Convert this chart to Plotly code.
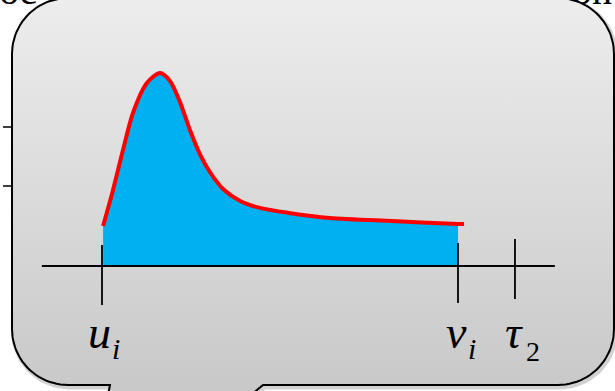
import numpy as np
import plotly.graph_objects as go

# ---- data -------------------------------------------------------------
# time positions (u_i = start, v_i = end of interval, tau_2 = later time)
u_i = 0.0
v_i = 1.0
tau_2 = 1.16
tick_positions = [u_i, v_i, tau_2]
tick_labels = ["u", "v", "τ"]
tick_subscripts = ["i", "i", "2"]

# density curve over the interval (peak normalised to 1)
t_curve = [0.003, 0.031, 0.059, 0.087, 0.126, 0.163, 0.191, 0.219, 0.247,
           0.275, 0.303, 0.340, 0.388, 0.444, 0.525, 0.640, 0.815, 1.000, 1.017]
density = [0.207, 0.394, 0.601, 0.793, 0.948, 1.000, 0.959, 0.850, 0.705,
           0.580, 0.487, 0.399, 0.337, 0.301, 0.275, 0.249, 0.233, 0.218, 0.218]

# axis extent
axis_start, axis_end = -0.169, 1.272

# ---- styling ----------------------------------------------------------
W, H = 615, 391
RED = "#ff0000"
BLUE = "#00b0f0"
SERIF = "Liberation Serif, Times New Roman, serif"

fig = go.Figure()


def arc(cx, cy, r, a0, a1, n=24):
    a = np.radians(np.linspace(a0, a1, n))
    return list(cx + r * np.cos(a)), list(cy + r * np.sin(a))


def bubble_path(left, top, right, bottom, r, tail_l, tail_r):
    xs, ys = [left + r, right - r], [top, top]
    ax, ay = arc(right - r, top + r, r, -90, 0); xs += ax; ys += ay
    ax, ay = arc(right - r, bottom - r, r, 0, 90); xs += ax; ys += ay
    xs += [tail_r + 12, tail_r, tail_l - 2, tail_l]
    ys += [bottom, bottom + 10, bottom + 10, bottom]
    ax, ay = arc(left + r, bottom - r, r, 90, 180); xs += ax; ys += ay
    ax, ay = arc(left + r, top + r, r, 180, 270); xs += ax; ys += ay
    return xs, ys


# background slide text partially hidden behind the callout
fig.add_trace(go.Scatter(
    x=[18, 592], y=[14, 14], mode="text", text=["oc", "on"],
    textposition="top center",
    textfont=dict(family=SERIF, size=40, color="black"),
    hoverinfo="skip", showlegend=False))

# small ticks of the slide behind
for yy in (127, 186):
    fig.add_trace(go.Scatter(x=[3, 12], y=[yy, yy], mode="lines",
                             line=dict(color="black", width=1.5),
                             hoverinfo="skip", showlegend=False))

bx, by = bubble_path(12, -2, 614, 385, 56, 110, 251)

# soft shadow
fig.add_trace(go.Scatter(
    x=[v + 1.5 for v in bx], y=[v + 2 for v in by], mode="lines",
    line=dict(color="rgba(0,0,0,0.18)", width=5),
    hoverinfo="skip", showlegend=False))

# callout body with vertical gradient (light at top, darker at bottom)
fig.add_trace(go.Scatter(
    x=bx, y=by, mode="lines", fill="toself",
    fillgradient=dict(type="vertical",
                      colorscale=[[0, "#c8c8c8"], [1, "#ededed"]]),
    line=dict(color="black", width=2),
    hoverinfo="skip", showlegend=False))

# ---- chart on overlaid axes ------------------------------------------
fill_x = [t for t in t_curve if t <= v_i]
fill_y = density[:len(fill_x)]
fig.add_trace(go.Scatter(
    x=fill_x, y=fill_y, mode="lines", fill="tozeroy",
    fillcolor=BLUE, line=dict(color=BLUE, width=0, shape="spline", smoothing=0.8),
    xaxis="x2", yaxis="y2", hoverinfo="skip", showlegend=False))

fig.add_trace(go.Scatter(
    x=t_curve, y=density, mode="lines",
    line=dict(color=RED, width=4, shape="spline", smoothing=0.8),
    xaxis="x2", yaxis="y2", hoverinfo="skip", showlegend=False))

# time axis
fig.add_trace(go.Scatter(
    x=[axis_start, axis_end], y=[0, 0], mode="lines",
    line=dict(color="black", width=1.8),
    xaxis="x2", yaxis="y2", hoverinfo="skip", showlegend=False))

tick_extent = {u_i: (0.109, -0.202), v_i: (0.119, -0.192), tau_2: (0.140, -0.171)}
for t in tick_positions:
    hi, lo = tick_extent[t]
    fig.add_trace(go.Scatter(
        x=[t, t], y=[hi, lo], mode="lines",
        line=dict(color="black", width=1.8),
        xaxis="x2", yaxis="y2", hoverinfo="skip", showlegend=False))

# tick labels: main symbol (left of its anchor) and subscript (right of it)
main_shift = {"u": 10, "v": 10, "τ": 9}
sub_shift = {"u": 9, "v": 9, "τ": 10}
sub_y = {"i": -0.425, "2": -0.445}
sub_size = {"i": 30, "2": 28}
for t, lab, sub in zip(tick_positions, tick_labels, tick_subscripts):
    fig.add_annotation(x=t, y=-0.347, xref="x2", yref="y2",
                       text="<i>%s</i>" % lab,
                       showarrow=False, xanchor="right", yanchor="middle",
                       xshift=main_shift[lab], borderpad=0,
                       font=dict(family=SERIF, size=46, color="black"))
    fig.add_annotation(x=t, y=sub_y[sub], xref="x2", yref="y2",
                       text="<i>%s</i>" % sub if sub == "i" else sub,
                       showarrow=False, xanchor="left", yanchor="middle",
                       xshift=sub_shift[lab], borderpad=0,
                       font=dict(family=SERIF, size=sub_size[sub], color="black"))

px_per_x, px_per_y = 356, 193
x0_px, y0_px = 102, 266

fig.update_layout(
    width=W, height=H,
    margin=dict(l=0, r=0, t=0, b=0),
    paper_bgcolor="white", plot_bgcolor="white",
    xaxis=dict(range=[0, W], visible=False, fixedrange=True),
    yaxis=dict(range=[H, 0], visible=False, fixedrange=True),
    xaxis2=dict(range=[-x0_px / px_per_x, (W - x0_px) / px_per_x],
                overlaying="x", visible=False, fixedrange=True),
    yaxis2=dict(range=[(y0_px - H) / px_per_y, y0_px / px_per_y],
                overlaying="y", visible=False, fixedrange=True),
    showlegend=False,
)

fig.write_html("out.html")
